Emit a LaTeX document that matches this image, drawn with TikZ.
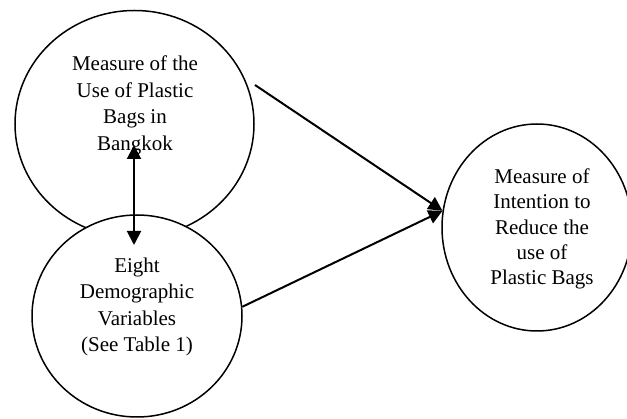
\documentclass[tikz,border=0pt]{standalone}
\usepackage{fontspec}
\setmainfont{Liberation Serif}
\usetikzlibrary{shapes.geometric,arrows.meta}
\begin{document}
\begin{tikzpicture}[x=1pt,y=-1pt,
  bubble/.style={draw=black,line width=1.5pt,ellipse,inner sep=0pt,fill=none},
  txt/.style={anchor=base,inner sep=0pt,font=\fontsize{21}{26}\selectfont},
  link/.style={line width=2pt,-{Triangle[length=14pt,width=14pt]}},
  dlink/.style={line width=2pt,{Triangle[length=14pt,width=14pt]}-{Triangle[length=14pt,width=14pt]}}]
\useasboundingbox (0,0) rectangle (627,419);
\clip (0,0) rectangle (627,419);
\fill[white] (0,0) rectangle (627,419);
% ellipses
\node[bubble,minimum width=239pt,minimum height=227pt] (c1) at (134.5,124) {};
\node[bubble,fill=white,minimum width=210pt,minimum height=202pt] (c2) at (137,316) {};
\node[bubble,minimum width=190pt,minimum height=207pt] (c3) at (537,227.5) {};
% texts
\node[txt] (t1a) at (135,71) {Measure of the};
\node[txt] (t1b) at (135,97.4) {Use of Plastic};
\node[txt] (t1c) at (135,123.8) {Bags in};
\node[txt] (t1d) at (135,150.2) {Bangkok};
\node[txt] (t2a) at (137,272.3) {Eight};
\node[txt] (t2b) at (137,298.8) {Demographic};
\node[txt] (t2c) at (137,325.3) {Variables};
\node[txt] (t2d) at (137,351.8) {(See Table 1)};
\node[txt] (t3a) at (542,183.3) {Measure of};
\node[txt] (t3b) at (542,208.7) {Intention to};
\node[txt] (t3c) at (542,234.1) {Reduce the};
\node[txt] (t3d) at (542,259.5) {use of};
\node[txt] (t3e) at (542,284.9) {Plastic Bags};
% connectors
\coordinate (s1) at (255,85);
\coordinate (va) at (134,145);
\coordinate (vb) at (134,245);
\draw[link] (s1) -- (c3.170);
\draw[link] (c2.5) -- (c3.170);
\draw[dlink] (va) -- (vb);
\end{tikzpicture}
\end{document}
